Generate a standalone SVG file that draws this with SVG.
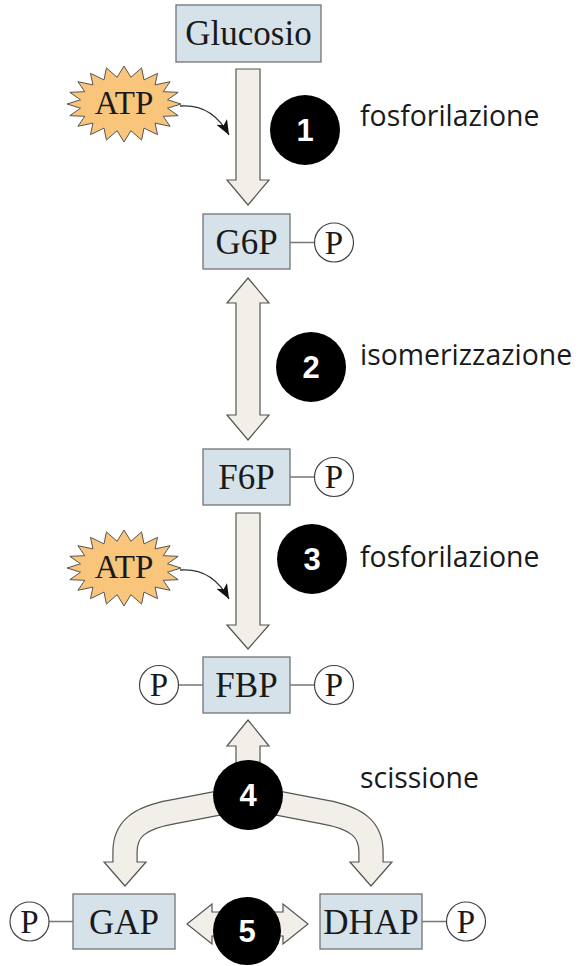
<svg xmlns="http://www.w3.org/2000/svg" xmlns:xlink="http://www.w3.org/1999/xlink" width="580" height="966" viewBox="0 0 580 966">
  <style>
    .box { fill: #d6e2ea; stroke: #737373; stroke-width: 1.3; }
    .mol { font-family: "Liberation Serif", "Times New Roman", serif; font-size: 35px; fill: #1a1a1a; text-anchor: middle; }
    .pc { fill: #ffffff; stroke: #444444; stroke-width: 1.2; }
    .ptxt { font-family: "Liberation Serif", "Times New Roman", serif; font-size: 33px; fill: #1a1a1a; text-anchor: middle; }
    .bond { stroke: #777777; stroke-width: 1.5; fill: none; }
    .arr { fill: #f1efe8; stroke: #555555; stroke-width: 1.2; stroke-linejoin: miter; }
    .band-out { fill: none; stroke: #555555; stroke-width: 25.4; }
    .band-in { fill: none; stroke: #f1efe8; stroke-width: 23; }
    .step { fill: #000000; }
    .num { font-family: "Liberation Sans", Arial, sans-serif; font-weight: bold; font-size: 31px; fill: #ffffff; text-anchor: middle; }
    .lbl { font-family: "Open Sans", "Noto Sans", sans-serif; font-size: 28.4px; fill: #1a1a1a; }
    .star { fill: #f9c57b; stroke: #555555; stroke-width: 1; }
    .atp { font-family: "Liberation Serif", "Times New Roman", serif; font-size: 33px; fill: #1a1a1a; text-anchor: middle; }
    .thin { fill: none; stroke: #333333; stroke-width: 1.3; }
  </style>
  <defs>
    <polygon id="burst" class="star" points="57,0 43.5,4.2 54.2,11.7 39.2,12.3 46.1,22.3 31.1,19.1 33.5,30.7 20,24.1 17.6,36.1 6.9,26.7 0,38 -6.9,26.7 -17.6,36.1 -20,24.1 -33.5,30.7 -31.1,19.1 -46.1,22.3 -39.2,12.3 -54.2,11.7 -43.5,4.2 -57,0 -43.5,-4.2 -54.2,-11.7 -39.2,-12.3 -46.1,-22.3 -31.1,-19.1 -33.5,-30.7 -20,-24.1 -17.6,-36.1 -6.9,-26.7 0,-38 6.9,-26.7 17.6,-36.1 20,-24.1 33.5,-30.7 31.1,-19.1 46.1,-22.3 39.2,-12.3 54.2,-11.7 43.5,-4.2"/>
    <marker id="tip" markerUnits="userSpaceOnUse" markerWidth="16" markerHeight="12" refX="15" refY="6" orient="auto">
      <path d="M0,0 L15,6 L0,12 L4,6 z" fill="#111111"/>
    </marker>
  </defs>

  <!-- reaction arrows -->
  <g id="connectors">
    <polygon class="arr" points="236,69 260,69 260,180 269,180 248,205 227,180 236,180"/>
    <polygon class="arr" points="248,278 269,303 260,303 260,415 269,415 248,440 227,415 236,415 236,303 227,303"/>
    <polygon class="arr" points="236,513 260,513 260,625 269,625 248,649 227,625 236,625"/>
    <polygon class="arr" points="248,720 269,746 260,746 260,790 236,790 236,746 227,746"/>
    <!-- split into the two trioses -->
    <polygon class="arr" points="104,862 146,862 125,886"/>
    <polygon class="arr" points="350,862 392,862 371,886"/>
    <path class="band-out" d="M240,799 L172,812 C138,818 125,830 125,852 L125,862"/>
    <path class="band-in" d="M240,799 L172,812 C138,818 125,830 125,852 L125,863.5"/>
    <path class="band-out" d="M256,799 L324,812 C358,818 371,830 371,852 L371,862"/>
    <path class="band-in" d="M256,799 L324,812 C358,818 371,830 371,852 L371,863.5"/>
    <polygon class="arr" points="187,924 212,904 212,912 283,912 283,904 308,924 283,944 283,936 212,936 212,944"/>
    <!-- ATP feeding steps 1 and 3 -->
    <path class="thin" d="M180,106 C203,104 218,115 229,135" marker-end="url(#tip)"/>
    <path class="thin" d="M180,570 C203,568 218,579 229,599" marker-end="url(#tip)"/>
  </g>

  <g id="atp1">
    <use xlink:href="#burst" href="#burst" transform="translate(124,104)"/>
    <text class="atp" x="124" y="114">ATP</text>
  </g>
  <g id="atp2">
    <use xlink:href="#burst" href="#burst" transform="translate(124,568)"/>
    <text class="atp" x="124" y="578">ATP</text>
  </g>

  <g id="glucosio">
    <rect class="box" x="176" y="5" width="145" height="57"/>
    <text class="mol" x="248.5" y="45">Glucosio</text>
  </g>

  <g id="g6p">
    <rect class="box" x="203" y="214" width="87" height="55"/>
    <text class="mol" x="246.5" y="253.5">G6P</text>
    <line class="bond" x1="290" y1="242.5" x2="314" y2="242.5"/>
    <circle class="pc" cx="334" cy="242.5" r="19.5"/>
    <text class="ptxt" x="334" y="253.5">P</text>
  </g>

  <g id="f6p">
    <rect class="box" x="203" y="449" width="87" height="56"/>
    <text class="mol" x="246.5" y="489">F6P</text>
    <line class="bond" x1="290" y1="477" x2="314" y2="477"/>
    <circle class="pc" cx="334" cy="477" r="19.5"/>
    <text class="ptxt" x="334" y="488">P</text>
  </g>

  <g id="fbp">
    <rect class="box" x="203" y="657" width="87" height="56"/>
    <text class="mol" x="246.5" y="697">FBP</text>
    <line class="bond" x1="179" y1="685" x2="203" y2="685"/>
    <circle class="pc" cx="159" cy="685" r="19.5"/>
    <text class="ptxt" x="159" y="696">P</text>
    <line class="bond" x1="290" y1="685" x2="314" y2="685"/>
    <circle class="pc" cx="334" cy="685" r="19.5"/>
    <text class="ptxt" x="334" y="696">P</text>
  </g>

  <g id="gap">
    <rect class="box" x="73" y="894" width="102" height="55"/>
    <text class="mol" x="124" y="933.5">GAP</text>
    <line class="bond" x1="49" y1="921.5" x2="73" y2="921.5"/>
    <circle class="pc" cx="29.5" cy="921.5" r="19.5"/>
    <text class="ptxt" x="29.5" y="932.5">P</text>
  </g>

  <g id="dhap">
    <rect class="box" x="320" y="894" width="102" height="55"/>
    <text class="mol" x="371" y="933.5">DHAP</text>
    <line class="bond" x1="422" y1="921.5" x2="446" y2="921.5"/>
    <circle class="pc" cx="466" cy="921.5" r="19.5"/>
    <text class="ptxt" x="466" y="932.5">P</text>
  </g>

  <g id="step1">
    <circle class="step" cx="305" cy="130" r="35"/>
    <text class="num" x="305" y="141">1</text>
    <text class="lbl" x="360" y="126">fosforilazione</text>
  </g>
  <g id="step2">
    <circle class="step" cx="311" cy="367" r="35"/>
    <text class="num" x="311" y="378">2</text>
    <text class="lbl" x="360" y="365">isomerizzazione</text>
  </g>
  <g id="step3">
    <circle class="step" cx="312" cy="559" r="35"/>
    <text class="num" x="312" y="570">3</text>
    <text class="lbl" x="360" y="567">fosforilazione</text>
  </g>
  <g id="step4">
    <circle class="step" cx="248" cy="795" r="35"/>
    <text class="num" x="248" y="806">4</text>
    <text class="lbl" x="360" y="788">scissione</text>
  </g>
  <g id="step5">
    <circle class="step" cx="247" cy="931" r="34"/>
    <text class="num" x="247" y="942">5</text>
  </g>
</svg>
